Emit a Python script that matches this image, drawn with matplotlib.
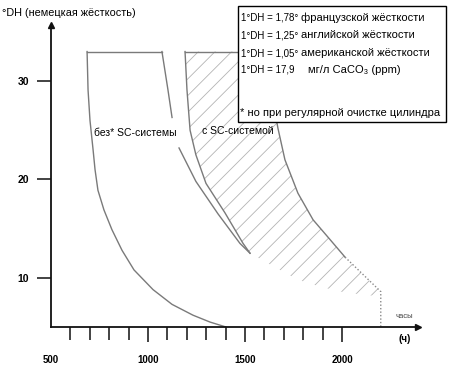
import numpy as np
import matplotlib
matplotlib.use("Agg")
import matplotlib.pyplot as plt
from matplotlib.patches import Polygon, Rectangle

plt.rcParams['font.family'] = ['Liberation Sans', 'DejaVu Sans']
plt.rcParams['hatch.color'] = '#b4b4b4'
plt.rcParams['hatch.linewidth'] = 0.6

# curve "без* SC-системы" (hours, °DH)
bez_left_x = [686, 691, 701, 717, 727, 742, 773, 814, 866, 928, 1026, 1124, 1232, 1320, 1402]
bez_left_y = [33, 29.1, 26.0, 23.0, 21.0, 18.9, 16.9, 14.9, 12.8, 10.8, 8.8, 7.3, 6.2, 5.5, 5.0]
bez_top_x = [686, 1072]
bez_top_y = [33, 33]
bez_right_top_x = [1072, 1103, 1124]
bez_right_top_y = [33, 29.1, 26.3]
bez_right_low_x = [1160, 1247, 1361, 1474, 1526]
bez_right_low_y = [23.2, 19.8, 16.5, 13.5, 12.5]

# hatched band "с SC-системой"
sc_left_x = [1191, 1201, 1217, 1247, 1299, 1397, 1490, 1526]
sc_left_y = [33, 29.1, 25.0, 22.5, 19.6, 16.6, 13.5, 12.5]
sc_right_x = [1608, 1634, 1670, 1706, 1773, 1851, 1938, 2016]
sc_right_y = [33, 29.1, 25.2, 22.0, 18.6, 15.9, 13.9, 12.1]
sc_dot_x = [2016, 2200, 2200]
sc_dot_y = [12.1, 8.6, 5.0]
sc_low_x = [1526, 1680, 1773, 1887, 2016, 2200]
sc_low_y = [12.5, 10.8, 9.8, 9.1, 8.5, 8.1]

xticks_major = [500, 1000, 1500, 2000]
xticks_minor = [600, 700, 800, 900, 1100, 1200, 1300, 1400, 1600, 1700, 1800, 1900]
yticks = [10, 20, 30]

legend_left = ['1°DH = 1,78°', '1°DH = 1,25°', '1°DH = 1,05°', '1°DH = 17,9']
legend_right = ['французской жёсткости', 'английской жёсткости', 'американской жёсткости', 'мг/л CaCO₃ (ppm)']

fig = plt.figure(figsize=(4.5, 3.73), dpi=100)
ax = fig.add_axes([51/450, 46/373, 367/450, 302/373])
ax.set_xlim(500, 2392)
ax.set_ylim(5, 35.7)

curve = dict(color='#7a7a7a', lw=1.0)
ax.plot(bez_left_x, bez_left_y, **curve)
ax.plot(bez_top_x, bez_top_y, **curve)
ax.plot(bez_right_top_x, bez_right_top_y, **curve)
ax.plot(bez_right_low_x, bez_right_low_y, **curve)

# hatched area
px = np.concatenate([sc_left_x, sc_low_x[1:], sc_dot_x[1:2], sc_right_x[::-1]])
py = np.concatenate([sc_left_y, sc_low_y[1:], sc_dot_y[1:2], sc_right_y[::-1]])
ax.add_patch(Polygon(np.column_stack([px, py]), closed=True, facecolor='none',
                     hatch='//', lw=0, zorder=1))
ax.plot(sc_left_x, sc_left_y, **curve)
ax.plot([sc_left_x[0], sc_right_x[0]], [33, 33], **curve)
ax.plot(sc_right_x, sc_right_y, **curve)
ax.plot(sc_dot_x, sc_dot_y, color='#8a8a8a', lw=1.0, ls=(0, (1, 1.5)))

ax.text(722, 24.7, 'без* SC-системы', fontsize=7.5, va='center')
ax.text(1278, 24.9, 'с SC-системой', fontsize=7.5, va='center')
ax.text(2278, 6.1, 'часы', fontsize=5.5, color='#444444', va='center')
ax.text(2325, 3.8, '(ч)', fontsize=7, fontweight='bold', ha='center', va='center', clip_on=False)

for s in ['top', 'right']:
    ax.spines[s].set_visible(False)
for s in ['left', 'bottom']:
    ax.spines[s].set_linewidth(1.3)
    ax.spines[s].set_color('#111111')
ax.plot(1, 0, '>', color='#111111', ms=4, transform=ax.transAxes, clip_on=False)
ax.plot(0, 1, '^', color='#111111', ms=4, transform=ax.transAxes, clip_on=False)

ax.set_xticks(xticks_major, [str(v) for v in xticks_major], fontsize=7, fontweight='bold')
ax.set_xticks(xticks_minor, minor=True)
ax.xaxis.get_major_ticks()[0].tick1line.set_visible(False)
ax.tick_params(axis='x', which='major', length=11, width=1.2, pad=9, color='#222222')
ax.tick_params(axis='x', which='minor', length=9.5, width=1.2, color='#222222')
ax.set_yticks(yticks, [str(v) for v in yticks], fontsize=7.5, fontweight='bold')
ax.tick_params(axis='y', length=10, width=1.2, pad=6, color='#222222')

fig.text(2/450, 1 - 13/373, '°DH (немецкая жёсткость)', fontsize=7.8, va='center')

# conversion box
fig.add_artist(Rectangle((238/450, 1 - 122/373), 208/450, 116/373, transform=fig.transFigure,
                         facecolor='white', edgecolor='black', lw=1.0))
ys = [18, 35, 53, 70]
xr = [301, 301, 301, 308]
for i in range(4):
    fig.text(241/450, 1 - ys[i]/373, legend_left[i], fontsize=7.0, va='center')
    fig.text(xr[i]/450, 1 - ys[i]/373, legend_right[i], fontsize=8.0, va='center')
fig.text(240/450, 1 - 113/373, '* но при регулярной очистке цилиндра', fontsize=8.0, va='center')

fig.savefig('out.png', dpi=100)
